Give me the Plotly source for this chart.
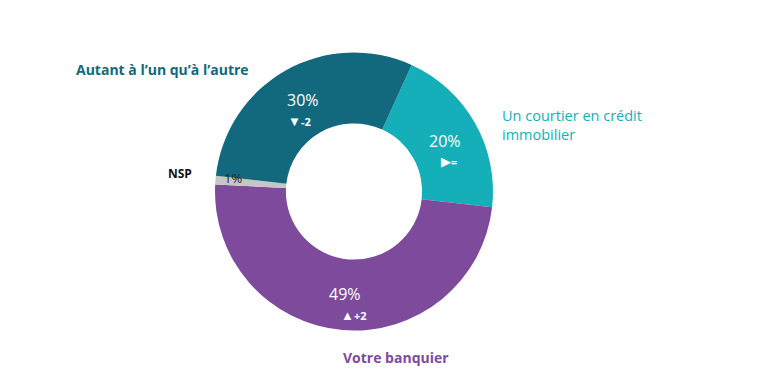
import plotly.graph_objects as go

categories = ["Un courtier en crédit immobilier", "Votre banquier", "NSP", "Autant à l'un qu'à l'autre"]
values = [20, 49, 1, 30]
arrows = ["▶", "▲", "", "▼"]
deltas = ["=", "+2", "", "-2"]
colors = ["#14AFB8", "#7E4B9C", "#C6C6C6", "#12697E"]

OFF = 8  # page body margin


def px(x):
    return (x - OFF) / 768


def py(y):
    return 1 - (y - OFF) / 376


cx, cy, r = 354, 191.5, 139

fig = go.Figure(go.Pie(
    labels=categories,
    values=values,
    textinfo="none",
    marker=dict(colors=colors, line=dict(width=0)),
    hole=0.49,
    sort=False,
    direction="clockwise",
    rotation=24.5,
    domain=dict(x=[px(cx - r), px(cx + r)], y=[py(cy + r), py(cy - r)]),
    showlegend=False,
    hoverinfo="label+percent",
))

# percentage labels inside the slices
pct_pos = [(445, 141), (345, 294), None, (303, 100)]
chg_pos = [(449, 161), (353, 315), None, (299, 121)]
for v, a, d, p, q in zip(values, arrows, deltas, pct_pos, chg_pos):
    if p is None:
        continue
    fig.add_annotation(x=px(p[0]), y=py(p[1]), xref="paper", yref="paper", text=f"{v}%",
                       showarrow=False, font=dict(family="Open Sans", size=16, color="white"),
                       xanchor="center", yanchor="middle", borderpad=0)
    fig.add_annotation(x=px(q[0]), y=py(q[1]), xref="paper", yref="paper",
                       text=f"<span style='font-size:13px'>{a}</span><b>{d}</b>",
                       showarrow=False, font=dict(family="Open Sans", size=11, color="white"),
                       xanchor="center", yanchor="middle", borderpad=0)

fig.add_annotation(x=px(162), y=py(70), xref="paper", yref="paper", text="<b>Autant à l’un qu’à l’autre</b>",
                   showarrow=False, font=dict(family="Open Sans", size=14, color="#12697E"), xanchor="center", yanchor="middle")
fig.add_annotation(x=px(500), y=py(125), xref="paper", yref="paper", text="Un courtier en crédit<br>immobilier",
                   showarrow=False, align="left", font=dict(family="Open Sans", size=14.5, color="#14AFB8"), xanchor="left", yanchor="middle")
fig.add_annotation(x=px(180), y=py(173), xref="paper", yref="paper", text="<b>NSP</b>",
                   showarrow=False, font=dict(family="Open Sans", size=12, color="#111111"), xanchor="center", yanchor="middle")
fig.add_annotation(x=px(233), y=py(178), xref="paper", yref="paper", text=f"{values[2]}%",
                   showarrow=False, font=dict(family="Open Sans", size=13, color="#222222"), xanchor="center", yanchor="middle")
fig.add_annotation(x=px(396), y=py(357), xref="paper", yref="paper", text="<b>Votre banquier</b>",
                   showarrow=False, font=dict(family="Open Sans", size=14, color="#7E4B9C"), xanchor="center", yanchor="middle")

fig.update_layout(
    width=768, height=376,
    margin=dict(l=0, r=0, t=0, b=0),
    paper_bgcolor="white",
    plot_bgcolor="white",
)

fig.write_html("out.html")
